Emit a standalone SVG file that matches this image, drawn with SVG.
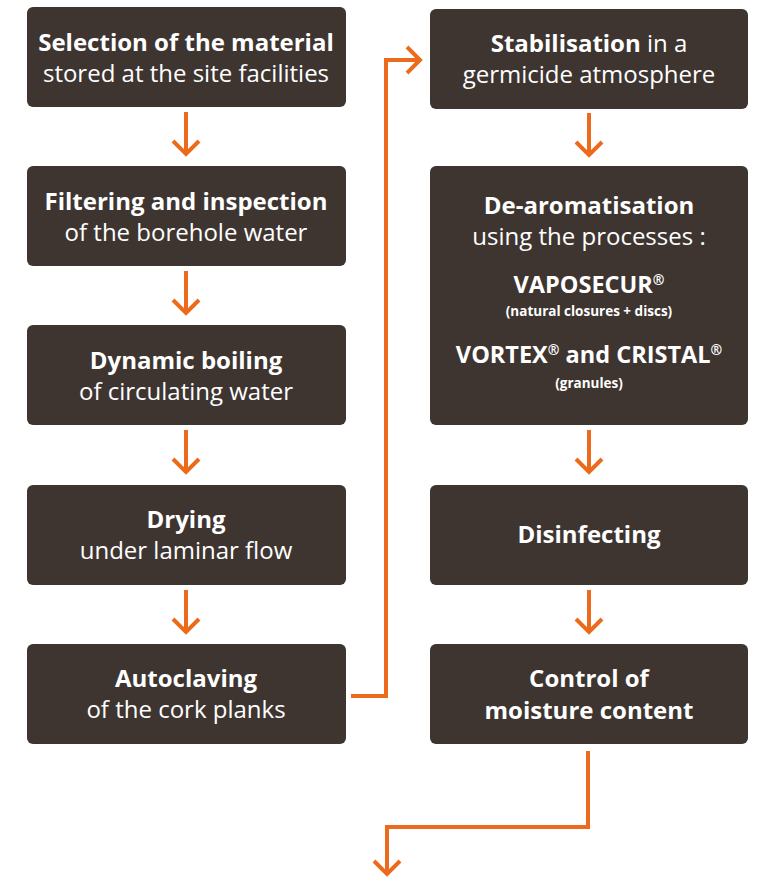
<svg xmlns="http://www.w3.org/2000/svg" width="757" height="877" viewBox="0 0 757 877">
<style>
.box{fill:#3e3531}
text{font-family:"Open Sans","Noto Sans","Liberation Sans",sans-serif;fill:#ffffff;text-anchor:middle}
.b{font-weight:700;font-size:24px}
.r{font-weight:400;font-size:24px}
.p{font-weight:700;font-size:23.5px}
.s{font-weight:700;font-size:13.5px}
.sup{font-size:14px}
.c{fill:none;stroke:#ec6a1c;stroke-width:4}
</style>
<rect width="757" height="877" fill="#ffffff"/>
<g id="n1"><rect class="box" x="27" y="7" width="319" height="100" rx="6"/><text class="b" x="186" y="51">Selection of the material</text><text class="r" x="186" y="82">stored at the site facilities</text></g>
<g id="n2"><rect class="box" x="27" y="166" width="319" height="100" rx="6"/><text class="b" x="186" y="210">Filtering and inspection</text><text class="r" x="186" y="241">of the borehole water</text></g>
<g id="n3"><rect class="box" x="27" y="325" width="319" height="100" rx="6"/><text class="b" x="186" y="369">Dynamic boiling</text><text class="r" x="186" y="400">of circulating water</text></g>
<g id="n4"><rect class="box" x="27" y="485" width="319" height="100" rx="6"/><text class="b" x="186" y="528">Drying</text><text class="r" x="186" y="559">under laminar flow</text></g>
<g id="n5"><rect class="box" x="27" y="644" width="319" height="100" rx="6"/><text class="b" x="186" y="687">Autoclaving</text><text class="r" x="186" y="718">of the cork planks</text></g>
<g id="n6"><rect class="box" x="430" y="9" width="318" height="100" rx="6"/><text x="589" y="52"><tspan class="b">Stabilisation</tspan><tspan class="r"> in a</tspan></text><text class="r" x="589" y="83">germicide atmosphere</text></g>
<g id="n7"><rect class="box" x="430" y="166" width="318" height="259" rx="6"/>
<text class="b" x="589" y="214">De-aromatisation</text>
<text class="r" x="589" y="245">using the processes :</text>
<text class="p" x="589" y="293">VAPOSECUR<tspan class="sup" dy="-8">®</tspan></text>
<text class="s" x="589" y="316">(natural closures + discs)</text>
<text class="p" x="589" y="363">VORTEX<tspan class="sup" dy="-8">®</tspan><tspan dy="8"> and CRISTAL</tspan><tspan class="sup" dy="-8">®</tspan></text>
<text class="s" x="589" y="388">(granules)</text></g>
<g id="n8"><rect class="box" x="430" y="485" width="318" height="100" rx="6"/><text class="b" x="589" y="543">Disinfecting</text></g>
<g id="n9"><rect class="box" x="430" y="644" width="318" height="100" rx="6"/><text class="b" x="589" y="687">Control of</text><text class="b" x="589" y="719">moisture content</text></g>
<g id="connectors">
<path class="c" d="M186 112V154M173 141L186 154L199 141"/>
<path class="c" d="M186 271V313M173 300L186 313L199 300"/>
<path class="c" d="M186 430V472M173 459L186 472L199 459"/>
<path class="c" d="M186 590V632M173 619L186 632L199 619"/>
<path class="c" d="M589 113V155M576 142L589 155L602 142"/>
<path class="c" d="M589 430V472M576 459L589 472L602 459"/>
<path class="c" d="M589 590V632M576 619L589 632L602 619"/>
<path class="c" d="M351 696H386V60H420M407 47L420 60L407 73"/>
<path class="c" d="M588 751V827H387V874M374 861L387 874L400 861"/>
</g>
</svg>
